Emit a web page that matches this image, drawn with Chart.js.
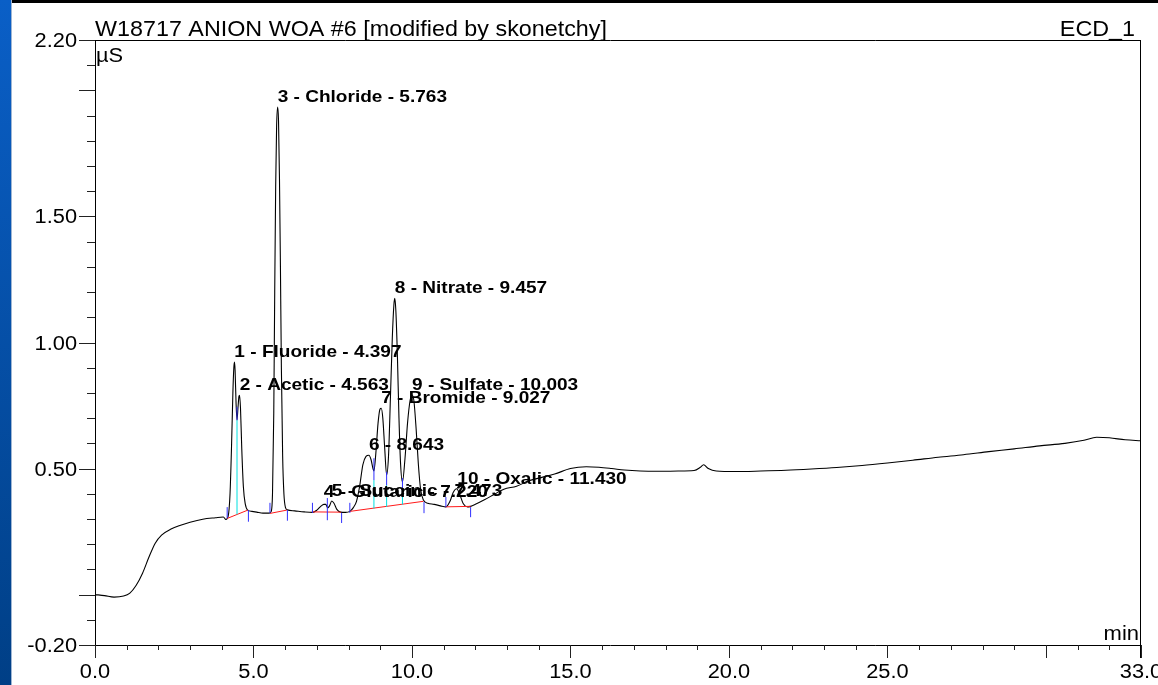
<!DOCTYPE html>
<html><head><meta charset="utf-8">
<script src="https://cdn.jsdelivr.net/npm/chart.js@4.4.1/dist/chart.umd.min.js"></script>
<style>html,body{margin:0;padding:0;background:#fff;overflow:hidden}#wrap{width:1158px;height:685px;position:relative}canvas{display:block}</style>
</head><body><div id="wrap"><canvas id="c" width="1158" height="685"></canvas></div>
<script>
// ---- chromatogram trace (time in min, signal in µS) ----
const curveT = [0.00,0.30,0.60,0.90,1.10,1.30,1.50,1.70,1.90,2.10,2.40,2.70,3.00,3.40,3.80,4.05,4.13,4.20,4.26,4.31,4.35,4.38,4.40,4.42,4.45,4.48,4.51,4.54,4.56,4.59,4.63,4.68,4.74,4.82,4.95,5.10,5.30,5.50,5.56,5.60,5.64,5.67,5.70,5.73,5.763,5.79,5.82,5.85,5.88,5.92,5.96,6.01,6.07,6.30,6.60,6.86,7.00,7.12,7.22,7.28,7.34,7.40,7.47,7.54,7.63,7.75,7.90,8.04,8.15,8.25,8.35,8.45,8.55,8.64,8.71,8.77,8.80,8.86,8.93,8.99,9.03,9.08,9.14,9.20,9.26,9.32,9.38,9.43,9.457,9.49,9.54,9.59,9.64,9.70,9.78,9.86,9.94,10.00,10.06,10.13,10.20,10.27,10.36,10.50,10.70,10.90,11.07,11.20,11.30,11.41,11.50,11.62,11.75,11.85,12.00,12.30,12.60,12.90,13.30,13.70,14.10,14.50,15.00,15.50,15.90,16.30,16.70,17.20,17.80,18.40,18.90,19.10,19.20,19.35,19.60,20.20,21.00,21.80,22.60,23.40,24.20,25.00,25.80,26.60,27.40,28.20,29.00,29.80,30.60,31.20,31.60,32.00,32.50,33.00];
const curveV = [0.000,-0.004,-0.010,-0.006,0.006,0.037,0.085,0.148,0.204,0.236,0.260,0.275,0.287,0.299,0.305,0.308,0.298,0.310,0.400,0.600,0.800,0.900,0.922,0.890,0.760,0.692,0.740,0.785,0.791,0.740,0.580,0.430,0.360,0.335,0.330,0.327,0.323,0.323,0.330,0.400,0.720,1.200,1.620,1.860,1.934,1.880,1.650,1.300,0.900,0.550,0.400,0.345,0.336,0.332,0.328,0.326,0.335,0.350,0.358,0.358,0.344,0.352,0.371,0.362,0.338,0.327,0.326,0.330,0.345,0.370,0.430,0.515,0.548,0.553,0.535,0.500,0.490,0.560,0.680,0.735,0.739,0.700,0.580,0.475,0.550,0.780,1.020,1.150,1.175,1.130,0.950,0.700,0.520,0.447,0.540,0.680,0.770,0.792,0.770,0.660,0.520,0.420,0.375,0.362,0.358,0.352,0.348,0.370,0.405,0.420,0.400,0.360,0.348,0.350,0.358,0.377,0.398,0.418,0.430,0.452,0.465,0.478,0.500,0.507,0.505,0.500,0.494,0.490,0.489,0.490,0.492,0.505,0.515,0.500,0.490,0.488,0.490,0.493,0.498,0.504,0.512,0.522,0.533,0.545,0.555,0.567,0.578,0.590,0.600,0.612,0.624,0.622,0.614,0.610];

// ---- peaks ----
const peakNo     = [1,2,3,4,5,6,7,8,9,10];
const peakName   = ["Fluoride","Acetic","Chloride","Glutaric","Succinic","","Bromide","Nitrate","Sulfate","Oxalic"];
const peakRT     = [4.397,4.563,5.763,7.220,7.473,8.643,9.027,9.457,10.003,11.430];
const peakHeight = [0.922,0.791,1.934,0.368,0.371,0.553,0.739,1.175,0.792,0.420];

// ---- integration baselines ----
const redStartT = [4.17,5.52,6.86,8.04,11.07];
const redStartV = [0.302,0.322,0.328,0.330,0.348];
const redEndT   = [4.82,6.05,7.76,10.36,11.85];
const redEndV   = [0.335,0.335,0.327,0.370,0.350];

// ---- peak delimiter marks ----
const blueT  = [4.17,4.48,4.84,5.52,6.07,6.86,7.33,7.78,8.04,8.80,9.20,9.70,10.38,11.07,11.85];
const blueLo = [0.303,0.692,0.289,0.324,0.293,0.324,0.295,0.284,0.324,0.454,0.434,0.402,0.323,0.347,0.307];
const blueHi = [0.347,0.745,0.335,0.364,0.335,0.364,0.383,0.324,0.364,0.541,0.487,0.462,0.367,0.387,0.347];

// ---- drop lines ----
const cyanT  = [4.48,8.80,9.20,9.70];
const cyanLo = [0.318,0.341,0.348,0.357];
const cyanHi = [0.692,0.454,0.434,0.402];

// ---- axes ----
const xMin = 0, xMax = 33, yMin = -0.2, yMax = 2.2;
const xTickLabels = [0,5,10,15,20,25,33];
const yTickLabels = [2.2,1.5,1.0,0.5,-0.2];
const titleText = "W18717 ANION WOA #6 [modified by skonetchy]";
const channelText = "ECD_1";
const yUnit = "µS", xUnit = "min";

const FONT = '"Liberation Sans", Arial, sans-serif';
function txt(ctx, s, x, y, size, bold, align, sx) {
  ctx.save();
  ctx.font = (bold ? 'bold ' : '') + size + 'px ' + FONT;
  ctx.textAlign = align; ctx.textBaseline = 'alphabetic';
  ctx.fillStyle = '#000';
  ctx.translate(x, y); ctx.scale(sx, 1);
  ctx.fillText(s, 0, 0);
  ctx.restore();
}
function seg(ctx, x1, y1, x2, y2) { ctx.beginPath(); ctx.moveTo(x1, y1); ctx.lineTo(x2, y2); ctx.stroke(); }

const curveData = curveT.map((t, i) => ({x: t, y: curveV[i]}));
const redData = []; redStartT.forEach((t, i) => { redData.push({x: t, y: redStartV[i]}, {x: redEndT[i], y: redEndV[i]}, {x: redEndT[i], y: null}); });
const blueData = []; blueT.forEach((t, i) => { blueData.push({x: t, y: blueLo[i]}, {x: t, y: blueHi[i]}, {x: t, y: null}); });
const cyanData = []; cyanT.forEach((t, i) => { cyanData.push({x: t, y: cyanLo[i]}, {x: t, y: cyanHi[i]}, {x: t, y: null}); });

const decor = {
  id: 'decor',
  beforeDraw(chart) {
    const ctx = chart.ctx, W = chart.width, H = chart.height;
    ctx.save();
    ctx.fillStyle = '#fff'; ctx.fillRect(0, 0, W, H);
    const g = ctx.createLinearGradient(0, 0, 0, H);
    g.addColorStop(0, '#0a5fc7'); g.addColorStop(1, '#003f86');
    ctx.fillStyle = g; ctx.fillRect(0, 0, 11, H);
    ctx.fillStyle = '#9fb6d3'; ctx.fillRect(11, 0, 1, H);
    ctx.fillStyle = '#000'; ctx.fillRect(12, 0, W - 12, 3);
    ctx.restore();
  },
  afterDatasetsDraw(chart) {
    const ctx = chart.ctx, xs = chart.scales.x, ys = chart.scales.y;
    const L = Math.round(xs.getPixelForValue(xMin)), R = Math.round(xs.getPixelForValue(xMax));
    const T = Math.round(ys.getPixelForValue(yMax)), B = Math.round(ys.getPixelForValue(yMin));
    ctx.save();
    ctx.lineWidth = 1; ctx.strokeStyle = '#000';
    seg(ctx, L - 15, T + 0.5, R, T + 0.5);
    seg(ctx, L - 15, B + 0.5, R, B + 0.5);
    seg(ctx, L + 0.5, T, L + 0.5, B + 13);
    seg(ctx, R - 0.5, T, R - 0.5, B + 13);
    ctx.strokeStyle = '#222';
    for (let k = Math.round(yMin * 10); k <= Math.round(yMax * 10); k++) {
      const py = Math.round(ys.getPixelForValue(k / 10)) + 0.5;
      const major = (k % 5 === 0) || k === Math.round(yMin * 10) || k === Math.round(yMax * 10);
      seg(ctx, L - (major ? 16 : 8), py, L, py);
    }
    for (let m = xMin; m <= xMax; m++) {
      const px = Math.round(xs.getPixelForValue(m)) + 0.5;
      const major = (m % 5 === 0) || m === xMax;
      seg(ctx, px, B, px, B + (major ? 13 : 5));
    }
    yTickLabels.forEach(v => txt(ctx, v.toFixed(2), L - 18, ys.getPixelForValue(v) + 7, 20, false, 'right', 1.09));
    xTickLabels.forEach(v => txt(ctx, v.toFixed(1), xs.getPixelForValue(v), B + 33, 20, false, 'center', 1.09));
    txt(ctx, titleText, L, T - 4, 22, false, 'left', 1.06);
    txt(ctx, channelText, R - 6, T - 4, 22, false, 'right', 1.06);
    txt(ctx, yUnit, L + 1, T + 22, 20, false, 'left', 1.09);
    txt(ctx, xUnit, R - 2, B - 5, 20, false, 'right', 1.1);
    peakRT.forEach((rt, i) => {
      const label = peakName[i] ? (peakNo[i] + ' - ' + peakName[i] + ' - ' + rt.toFixed(3)) : (peakNo[i] + ' - ' + rt.toFixed(3));
      txt(ctx, label, xs.getPixelForValue(rt), ys.getPixelForValue(peakHeight[i]) - 5, 17, true, 'left', 1.12);
    });
    ctx.restore();
  }
};

new Chart(document.getElementById('c'), {
  type: 'line',
  data: { datasets: [
    { data: blueData, borderColor: '#3030ff', borderWidth: 1, pointRadius: 0, tension: 0, spanGaps: false },
    { data: cyanData, borderColor: '#00e0e0', borderWidth: 1, pointRadius: 0, tension: 0, spanGaps: false },
    { data: redData, borderColor: '#ff1a1a', borderWidth: 1, pointRadius: 0, tension: 0, spanGaps: false },
    { data: curveData, borderColor: '#000', borderWidth: 1.1, pointRadius: 0, cubicInterpolationMode: 'monotone' }
  ]},
  options: {
    responsive: false, devicePixelRatio: 1, animation: false,
    layout: { padding: { left: 95, top: 40, right: 17, bottom: 40 } },
    scales: {
      x: { type: 'linear', min: xMin, max: xMax, display: false },
      y: { type: 'linear', min: yMin, max: yMax, display: false }
    },
    plugins: { legend: { display: false }, tooltip: { enabled: false } }
  },
  plugins: [decor]
});
</script>
</body></html>
